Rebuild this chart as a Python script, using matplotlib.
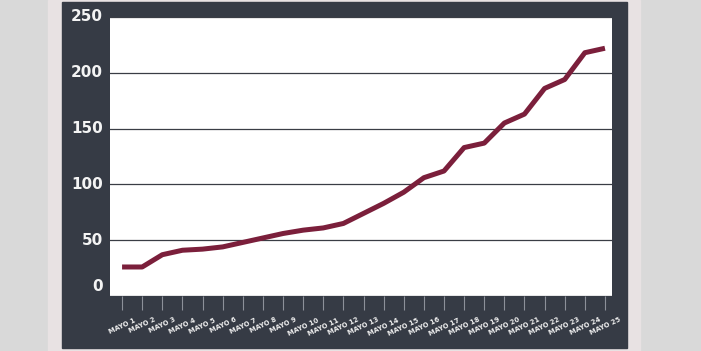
import matplotlib.pyplot as plt
import matplotlib.transforms as mtransforms
from matplotlib.patches import Rectangle

# datos (casos acumulados por dia)
dias = ['MAYO %d' % i for i in range(1, 26)]
casos = [26, 26, 37, 41, 42, 44, 48, 52, 56, 59, 61, 65, 74, 83, 93,
         106, 112, 133, 137, 155, 163, 186, 194, 218, 222]
y_ticks = [0, 50, 100, 150, 200, 250]

fig = plt.figure(figsize=(7.01, 3.51), dpi=100)
fig.patch.set_facecolor('#d9d9d9')

# bandas de fondo: borde rosado y panel oscuro
fig.patches.append(Rectangle((48 / 701, 0), (640 - 48) / 701, 1,
                             transform=fig.transFigure, color='#e8e2e3', zorder=-10))
fig.patches.append(Rectangle((62 / 701, 1 - 348 / 351), (627 - 62) / 701, 346 / 351,
                             transform=fig.transFigure, color='#363b45', zorder=-9))

ax = fig.add_axes([110 / 701, 1 - 296 / 351, 502 / 701, 279 / 351])
ax.set_facecolor('white')

x = list(range(len(dias)))
ax.plot(x, casos, color='#7b1f3b', linewidth=3.6, solid_joinstyle='round',
        solid_capstyle='butt', zorder=3)

ax.set_xlim(-0.6, 24.35)
ax.set_ylim(0, 250)
ax.set_yticks(y_ticks)
ax.set_yticklabels([str(v) for v in y_ticks], fontsize=11, color='#f4f4f4',
                   fontfamily='DejaVu Sans', fontweight='bold')
ax.set_xticks(x)
ax.set_xticklabels(dias, rotation=25, ha='center', fontsize=4.9, color='#eeeeee',
                   fontfamily='DejaVu Sans', fontweight='bold')

ax.tick_params(axis='y', length=0, pad=5)
ax.tick_params(axis='x', direction='out', length=10, width=0.8, color='#8c9099', pad=5)

# etiquetas del eje y un poco por encima de la linea
up = mtransforms.ScaledTranslation(0, 1.2 / 72, fig.dpi_scale_trans)
for lbl in ax.get_yticklabels():
    lbl.set_transform(lbl.get_transform() + up)
ax.get_yticklabels()[0].set_va('bottom')

ax.grid(axis='y', color='#3a3d45', linewidth=0.9)
ax.set_axisbelow(True)
for s in ax.spines.values():
    s.set_visible(False)

fig.savefig('out.png', dpi=100, facecolor=fig.get_facecolor())
